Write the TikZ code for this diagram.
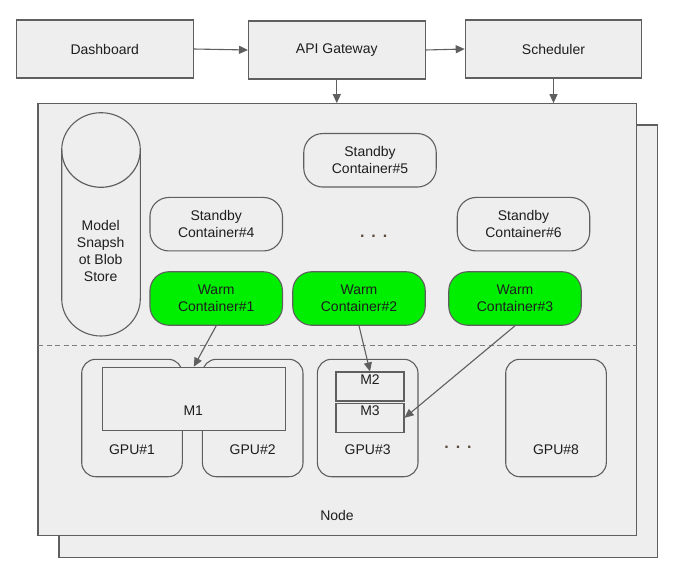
\documentclass[tikz,border=0pt]{standalone}
\usepackage{fontspec}
\setmainfont{Liberation Sans}
\usetikzlibrary{arrows.meta}
\definecolor{boxfill}{HTML}{EEEEEE}
\definecolor{boxline}{HTML}{5F5F5F}
\definecolor{warmgreen}{RGB}{0,238,0}
\definecolor{txt}{HTML}{1E1E1E}
\definecolor{dotcol}{HTML}{5A4A3C}
\tikzset{
  every node/.style={font=\fontsize{14}{17}\selectfont, text=txt},
  box/.style={draw=boxline, fill=boxfill, line width=1.1pt, inner sep=0pt},
  topbox/.style={box, minimum width=176.5pt, minimum height=58pt},
  contbox/.style={draw=boxline, line width=1.1pt, rounded corners=19pt, minimum width=132.5pt, minimum height=53.5pt, align=center, inner sep=0pt},
  standbybox/.style={contbox, fill=boxfill},
  warmbox/.style={contbox, fill=warmgreen},
  gpubox/.style={box, rounded corners=14pt, minimum width=100.6pt, minimum height=117.4pt},
  membox/.style={box},
  conn/.style={draw=boxline, line width=1.1pt, -{Triangle[length=9pt,width=8pt]}},
  dots/.style={text=dotcol, font=\fontsize{16}{17}\selectfont\bfseries},
}
\begin{document}
\begin{tikzpicture}[x=1pt, y=-1pt]
\useasboundingbox (0,0) rectangle (686,564);
% back and main node rectangles
\node[box, minimum width=598.7pt, minimum height=432.3pt] (back) at (358.35,341.15) {};
\node[box, minimum width=598.7pt, minimum height=432pt] (main) at (337.35,319.7) {};
\node (nodetxt) at (337,515) {Node};
% dashed separator
\coordinate (dl) at (38,346);
\coordinate (dr) at (636.7,346);
\draw[draw=boxline!80, line width=1pt, dash pattern=on 5pt off 3.5pt] (dl) -- (dr);
% top row
\node[topbox] (dash) at (104.8,49) {Dashboard};
\node[topbox] (api) at (336.8,50) {API Gateway};
\node[topbox] (sched) at (553.5,49) {Scheduler};
\draw[conn] (dash.east) -- (api.west);
\draw[conn] (api.east) -- (sched.west);
\draw[conn] (api.south) -- (api.south |- main.north);
\draw[conn] (sched.south) -- (sched.south |- main.north);
% cylinder store
\draw[draw=boxline, fill=boxfill, line width=1.1pt]
  (61.7,150) -- (61.7,298.7) arc[start angle=180, end angle=0, x radius=39.3, y radius=37.3]
  -- (140.3,150) arc[start angle=0, end angle=-180, x radius=39.3, y radius=37.3] -- cycle;
\draw[draw=boxline, line width=1.2pt] (61.7,150) .. controls (61.7,170.6) and (79.3,187.3) .. (101,187.3) .. controls (122.7,187.3) and (140.3,170.6) .. (140.3,150);
\node[align=center] (store) at (100.7,251.4) {Model\\Snapsh\\ot Blob\\Store};
% containers
\node[standbybox] (s5) at (370,160.3) {Standby\\Container\#5};
\node[standbybox] (s4) at (216.2,224.2) {Standby\\Container\#4};
\node[standbybox] (s6) at (523.5,224.2) {Standby\\Container\#6};
\node[dots] (dots1) at (373.7,236) {.\hspace{7pt}.\hspace{7pt}.};
\node[warmbox] (w1) at (216.2,298.5) {Warm\\Container\#1};
\node[warmbox] (w2) at (359,298.5) {Warm\\Container\#2};
\node[warmbox] (w3) at (515,298.5) {Warm\\Container\#3};
% GPUs
\node[gpubox] (g1) at (132,418) {};
\node[gpubox] (g2) at (252.7,418) {};
\node[gpubox] (g3) at (367.7,418) {};
\node[gpubox] (g8) at (556,418) {};
\node[membox, minimum width=183pt, minimum height=63.4pt] (m1) at (193.8,399) {};
\node[membox, minimum width=68pt, minimum height=29pt] (m2) at (370,386.5) {};
\node[membox, minimum width=68pt, minimum height=29pt] (m3) at (370,417.8) {};
\node (m1t) at (193.3,410.7) {M1};
\node (m2t) at (370,380) {M2};
\node (m3t) at (370,411) {M3};
\node (g1t) at (132,450) {GPU\#1};
\node (g2t) at (252.7,450) {GPU\#2};
\node (g3t) at (367.7,450) {GPU\#3};
\node (g8t) at (556,450) {GPU\#8};
\node[dots] (dots2) at (458,447) {.\hspace{7pt}.\hspace{7pt}.};
% connectors to memory
\draw[conn] (w1.south) -- (m1.north);
\draw[conn] (w2.south) -- (m2.north);
\draw[conn] (w3.south) -- (m3.east);
\end{tikzpicture}
\end{document}
